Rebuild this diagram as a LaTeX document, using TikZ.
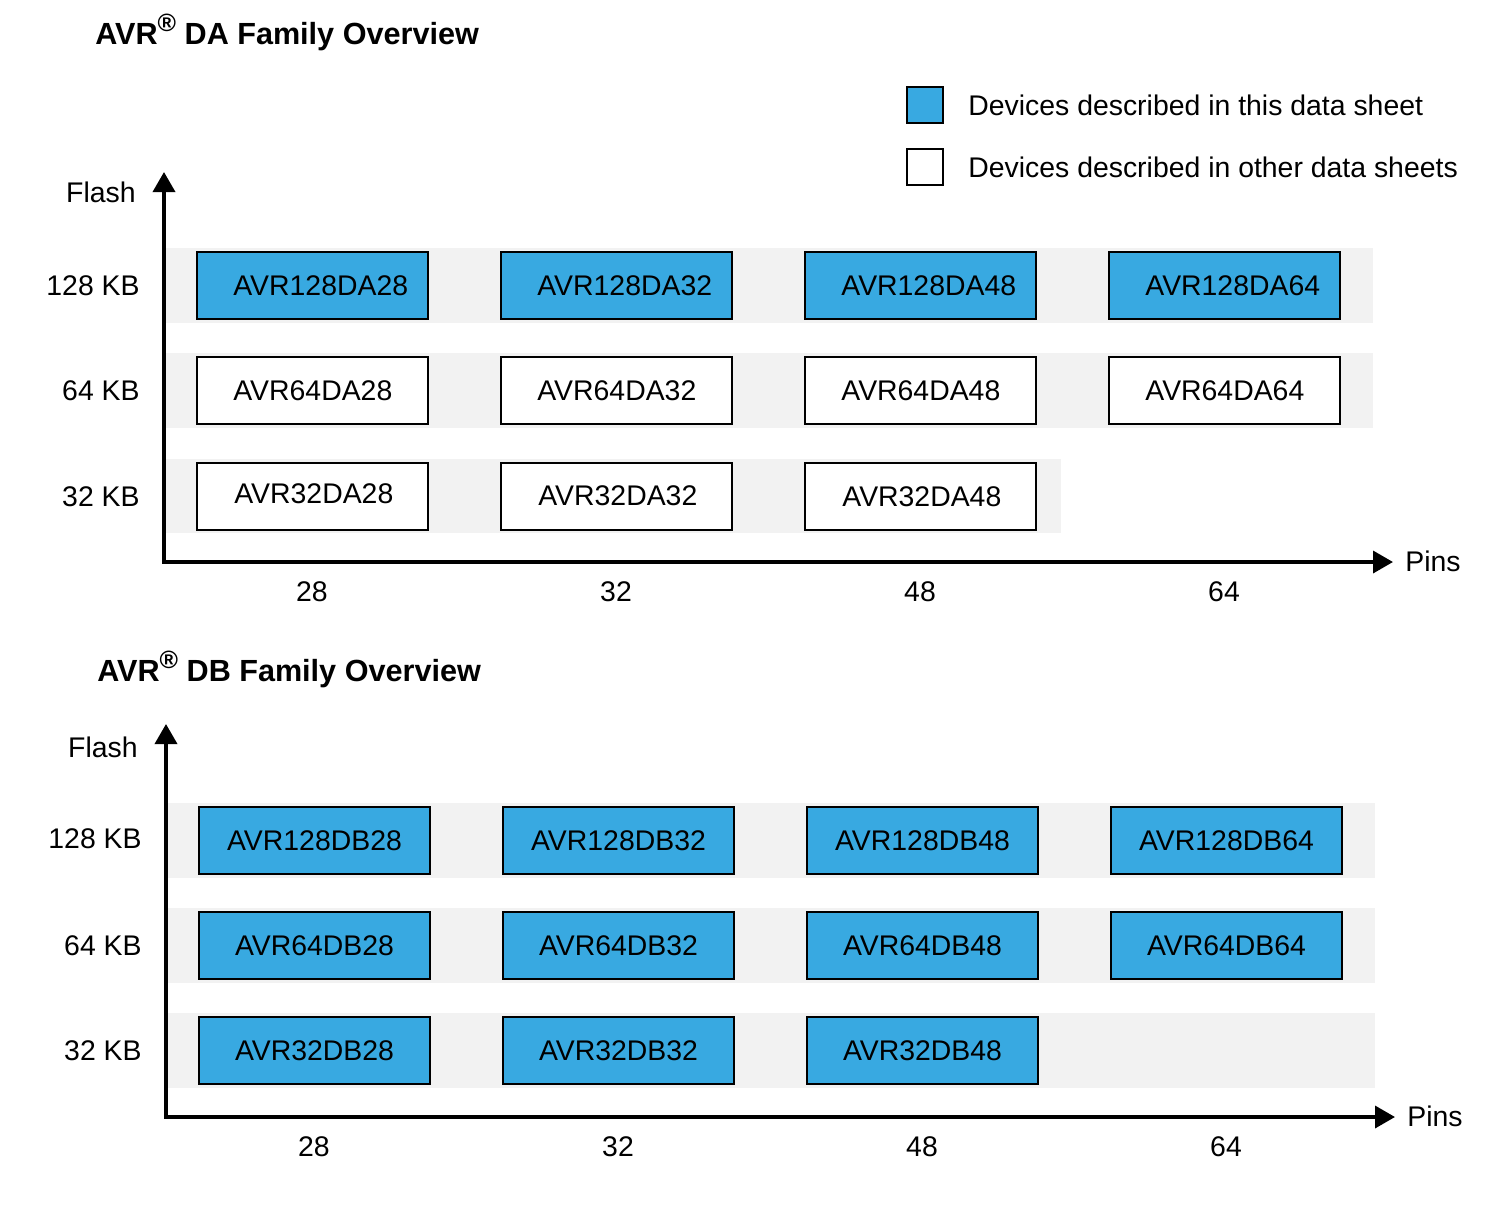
\documentclass[tikz,border=0pt]{standalone}
\usepackage{fontspec}
\setmainfont{Liberation Sans}
\usetikzlibrary{arrows.meta}
\definecolor{devblue}{RGB}{56,169,225}
\definecolor{band}{RGB}{242,242,242}
\newcommand{\regmark}{\raisebox{0.42em}{\fontsize{12.5pt}{12.5pt}\selectfont\textregistered}}
\begin{document}
\begin{tikzpicture}[x=0.5pt,y=-0.5pt,
  txt/.style={font=\fontsize{14.2pt}{17pt}\selectfont, inner sep=0pt},
  ttl/.style={font=\fontsize{15.3pt}{18pt}\selectfont\bfseries, inner sep=0pt},
  devbox/.style={draw=black, line width=1pt, minimum width=115.5pt, minimum height=33.5pt, inner sep=0pt, txt},
  here/.style={devbox, fill=devblue},
  other/.style={devbox, fill=white},
  legbox/.style={draw=black, line width=1pt, minimum width=18pt, minimum height=18pt, inner sep=0pt},
  axisline/.style={line width=1.8pt, -{Triangle[length=10pt,width=11pt]}},
]
\useasboundingbox (0,0) rectangle (1500,1227);

% ---------- Titles ----------
\node[ttl, anchor=base west] (t1) at (95,44) {AVR\regmark\ DA Family Overview};
\node[ttl, anchor=base west] (t2) at (97,681) {AVR\regmark\ DB Family Overview};

% ---------- Legend ----------
\node[legbox, fill=devblue] (leg1) at (925,105) {};
\node[legbox, fill=white] (leg2) at (925,167) {};
\node[txt, anchor=base west] (legt1) at (968,115) {Devices described in this data sheet};
\node[txt, anchor=base west] (legt2) at (968,177) {Devices described in other data sheets};

% ---------- DA chart ----------
\fill[band] (166,248) rectangle (1373,323);
\fill[band] (166,353) rectangle (1373,428);
\fill[band] (166,459) rectangle (1061,533);

\coordinate (da-o) at (164,562);
\coordinate (da-ytip) at (164,172);
\coordinate (da-xstart) at (162.2,562);
\coordinate (da-xtip) at (1393,562);
\draw[axisline] (da-o) -- (da-ytip);
\draw[axisline] (da-xstart) -- (da-xtip);

\node[txt, anchor=base east] (da-flash) at (136,202) {Flash};
\node[txt, anchor=base east] (da-k128) at (140,295) {128 KB};
\node[txt, anchor=base east] (da-k64) at (140,400) {64 KB};
\node[txt, anchor=base east] (da-k32) at (140,506) {32 KB};
\node[txt, anchor=base west] (da-pins) at (1405,571) {Pins};
\foreach \p/\x in {28/312,32/616,48/920,64/1224}
  \node[txt, anchor=base] (da-p\p) at (\x,601) {\p};

\foreach \p/\x in {28/312.5,32/616.5,48/920.5,64/1224.5}{
  \node[here] (da-128-\p) at (\x,285.5) {};
  \node[txt, anchor=west] (da-128-\p-t) at ([xshift=18.5pt]da-128-\p.west) {AVR128DA\p};
  \node[other] (da-64-\p) at (\x,390.5) {};
  \node[txt, anchor=west] (da-64-\p-t) at ([xshift=18.5pt]da-64-\p.west) {AVR64DA\p};
}
\foreach \p/\x/\dy in {28/312.5/-1,32/616.5/0,48/920.5/0.5}{
  \node[other] (da-32-\p) at (\x,496) {};
  \node[txt, anchor=west] (da-32-\p-t) at ([xshift=19pt,yshift=-\dy pt]da-32-\p.west) {AVR32DA\p};
}

% ---------- DB chart ----------
\fill[band] (168,803) rectangle (1375,878);
\fill[band] (168,908) rectangle (1375,983);
\fill[band] (168,1013) rectangle (1375,1088);

\coordinate (db-o) at (166,1117);
\coordinate (db-ytip) at (166,724);
\coordinate (db-xstart) at (164.2,1117);
\coordinate (db-xtip) at (1395,1117);
\draw[axisline] (db-o) -- (db-ytip);
\draw[axisline] (db-xstart) -- (db-xtip);

\node[txt, anchor=base east] (db-flash) at (138,757) {Flash};
\node[txt, anchor=base east] (db-k128) at (142,848) {128 KB};
\node[txt, anchor=base east] (db-k64) at (142,955) {64 KB};
\node[txt, anchor=base east] (db-k32) at (142,1060) {32 KB};
\node[txt, anchor=base west] (db-pins) at (1407,1126) {Pins};
\foreach \p/\x in {28/314,32/618,48/922,64/1226}
  \node[txt, anchor=base] (db-p\p) at (\x,1156) {\p};

\foreach \p/\x in {28/314.5,32/618.5,48/922.5,64/1226.5}{
  \node[here] (db-128-\p) at (\x,840.5) {AVR128DB\p};
  \node[here] (db-64-\p) at (\x,945.5) {AVR64DB\p};
}
\foreach \p/\x in {28/314.5,32/618.5,48/922.5}{
  \node[here] (db-32-\p) at (\x,1050.5) {AVR32DB\p};
}
\end{tikzpicture}
\end{document}
